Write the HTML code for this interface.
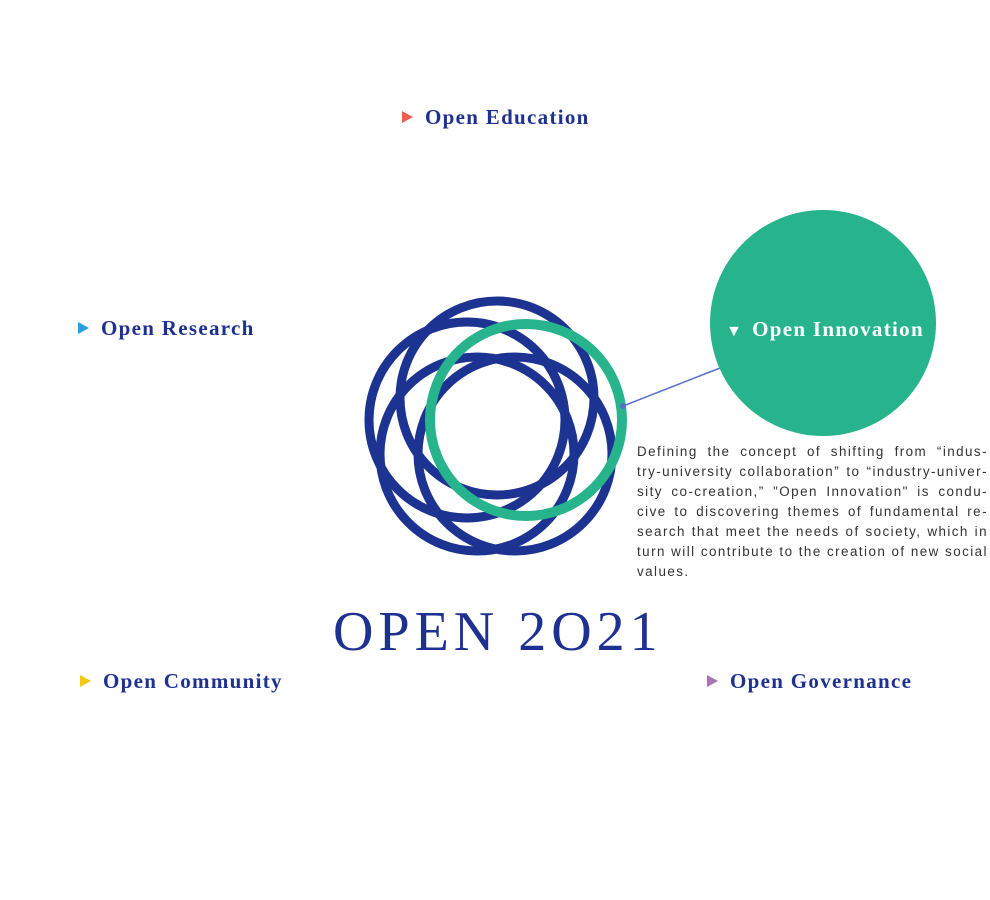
<!DOCTYPE html>
<html><head><style>
body{margin:0;width:990px;height:900px;background:#fff;position:relative;overflow:hidden;font-family:"Liberation Serif",serif}
.l{position:absolute;color:#1e3190;font-weight:bold;font-size:21px;letter-spacing:1.3px;white-space:nowrap}
.t{display:inline-block;width:0;height:0;border-top:6px solid transparent;border-bottom:6px solid transparent;border-left:11px solid;margin-right:12px;vertical-align:1px}
.p{position:absolute;left:637px;top:442px;width:351px;font-family:"Liberation Sans",sans-serif;font-size:13.4px;line-height:20px;letter-spacing:1.45px;color:#333}
.p div{text-align:justify;text-align-last:justify;white-space:nowrap}
.p div.e{text-align-last:left}
</style></head><body>
<svg width="990" height="900" style="position:absolute;left:0;top:0">
<g fill="none" stroke="#1c3391" stroke-width="9">
<circle cx="497" cy="398" r="97"/>
<circle cx="467" cy="420" r="98"/>
<circle cx="477" cy="454" r="97"/>
<circle cx="515" cy="454" r="97"/>
</g>
<circle cx="526" cy="420" r="96" fill="none" stroke="#27b48d" stroke-width="10"/>
<line x1="623" y1="406" x2="720" y2="368" stroke="#5a6fc8" stroke-width="1.5"/>
<circle cx="623" cy="406" r="3" fill="#5a6fc8"/>
<circle cx="823" cy="323" r="113" fill="#27b48d"/>
</svg>
<div class="l" style="left:402px;top:105px"><span class="t" style="color:#ec5f4f"></span>Open Education</div>
<div class="l" style="left:78px;top:316px"><span class="t" style="color:#2a9fe0"></span>Open Research</div>
<div class="l" style="left:80px;top:669px"><span class="t" style="color:#f5c518"></span>Open Community</div>
<div class="l" style="left:707px;top:669px"><span class="t" style="color:#a775b4"></span>Open Governance</div>
<div class="l" style="left:726px;top:317px;color:#fff"><span style="font-size:16px;margin-right:9px">▼</span>Open Innovation</div>
<div style="position:absolute;left:333px;top:600px;font-size:56px;color:#1e3190;letter-spacing:5px;white-space:nowrap">OPEN 2O21</div>
<div class="p">
<div>Defining the concept of shifting from “indus-</div>
<div>try-university collaboration” to “industry-univer-</div>
<div>sity co-creation,” "Open Innovation" is condu-</div>
<div>cive to discovering themes of fundamental re-</div>
<div>search that meet the needs of society, which in</div>
<div>turn will contribute to the creation of new social</div>
<div class="e">values.</div>
</div>
</body></html>
